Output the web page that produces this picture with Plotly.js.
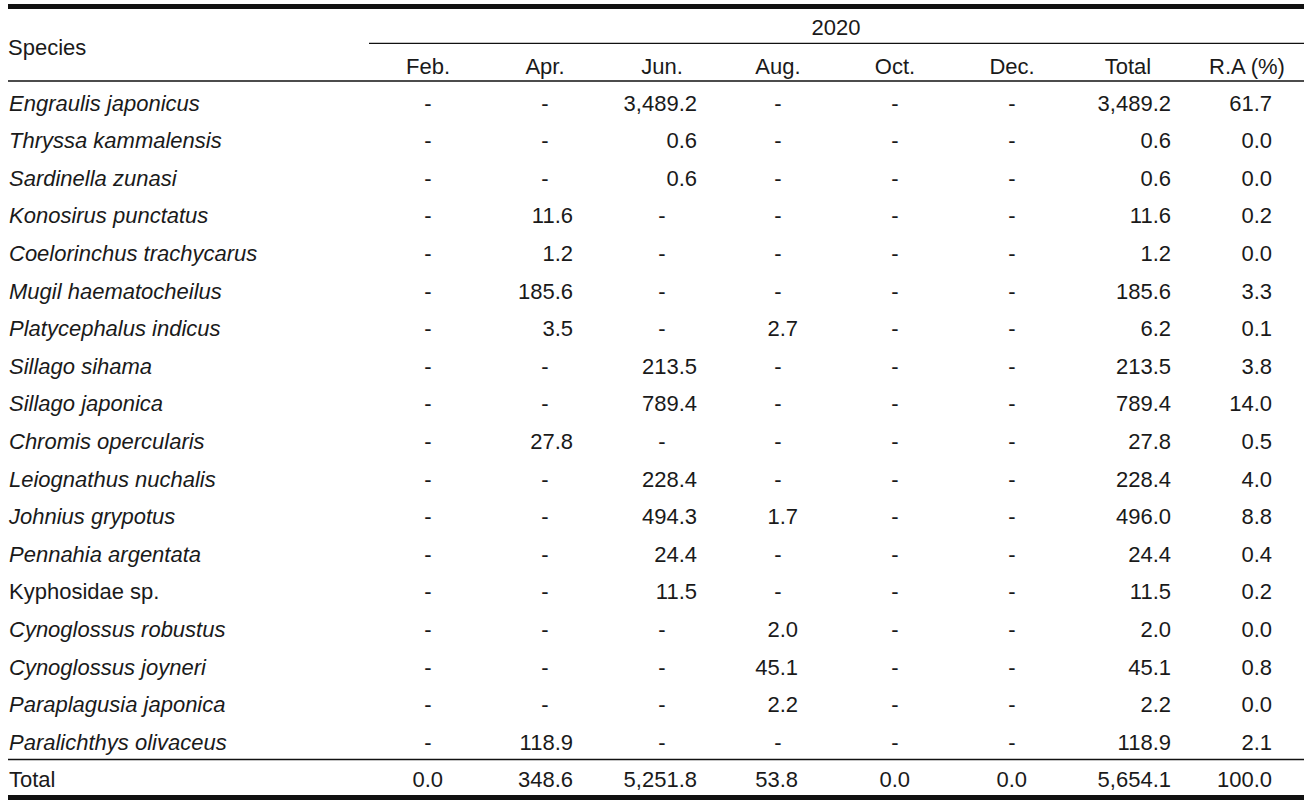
<!DOCTYPE html>
<html>
<head>
<meta charset="utf-8">
<script src="https://cdn.plot.ly/plotly-3.0.1.min.js"></script>
<style>
html,body{margin:0;padding:0;background:#fff;}
#chart{width:1314px;height:805px;}
</style>
</head>
<body>
<div id="chart"></div>
<script>
// ---------- data ----------
const species = [
  "Engraulis japonicus","Thryssa kammalensis","Sardinella zunasi","Konosirus punctatus",
  "Coelorinchus trachycarus","Mugil haematocheilus","Platycephalus indicus","Sillago sihama",
  "Sillago japonica","Chromis opercularis","Leiognathus nuchalis","Johnius grypotus",
  "Pennahia argentata","Kyphosidae sp.","Cynoglossus robustus","Cynoglossus joyneri",
  "Paraplagusia japonica","Paralichthys olivaceus"
];
const italicName = [true,true,true,true,true,true,true,true,true,true,true,true,true,false,true,true,true,true];
const yearLabel = "2020";
const speciesHeader = "Species";
const totalLabel = "Total";
const columnHeaders = ["Feb.","Apr.","Jun.","Aug.","Oct.","Dec.","Total","R.A (%)"];

const feb = [null,null,null,null,null,null,null,null,null,null,null,null,null,null,null,null,null,null];
const apr = [null,null,null,11.6,1.2,185.6,3.5,null,null,27.8,null,null,null,null,null,null,null,118.9];
const jun = [3489.2,0.6,0.6,null,null,null,null,213.5,789.4,null,228.4,494.3,24.4,11.5,null,null,null,null];
const aug = [null,null,null,null,null,null,2.7,null,null,null,null,1.7,null,null,2.0,45.1,2.2,null];
const oct = [null,null,null,null,null,null,null,null,null,null,null,null,null,null,null,null,null,null];
const dec = [null,null,null,null,null,null,null,null,null,null,null,null,null,null,null,null,null,null];
const total = [3489.2,0.6,0.6,11.6,1.2,185.6,6.2,213.5,789.4,27.8,228.4,496.0,24.4,11.5,2.0,45.1,2.2,118.9];
const relAbund = [61.7,0.0,0.0,0.2,0.0,3.3,0.1,3.8,14.0,0.5,4.0,8.8,0.4,0.2,0.0,0.8,0.0,2.1];
const columnTotals = [0.0,348.6,5251.8,53.8,0.0,0.0,5654.1,100.0];

// ---------- layout geometry ----------
const W = 1314, H = 805;
const ROW0 = 105, ROWH = 37.6;
const rowOf = px => (px - ROW0) / ROWH;
const colCenter = [428,545,662,778,895,1012,1128,1247];
const colRight  = [443,573,697,798,910,1027,1171,1272];
const FONT = {family:"Liberation Sans, Arial, sans-serif", size:22, color:"#1a1a1a"};

const columns = [feb,apr,jun,aug,oct,dec,total,relAbund];
const fmt = v => v.toLocaleString("en-US",{minimumFractionDigits:1,maximumFractionDigits:1});

const traces = [];

// species names + Total row label
const nRows = species.length;
traces.push({
  type:"scatter", mode:"text",
  x: species.map(()=>9).concat([9]),
  y: species.map((_,i)=>i).concat([nRows]),
  text: species.map((s,i)=> italicName[i] ? "<i>"+s+"</i>" : s).concat([totalLabel]),
  textposition:"middle right",
  textfont: FONT, hoverinfo:"skip", cliponaxis:false, showlegend:false
});

// data columns
columns.forEach((col,c)=>{
  const vals = col.concat([columnTotals[c]]);
  traces.push({
    type:"scatter", mode:"text",
    x: vals.map(v => v===null ? colCenter[c] : colRight[c]),
    y: vals.map((_,i)=>i),
    text: vals.map(v => v===null ? "-" : fmt(v)),
    textposition: vals.map(v => v===null ? "middle center" : "middle left"),
    textfont: FONT, hoverinfo:"skip", cliponaxis:false, showlegend:false
  });
});

// headers
traces.push({
  type:"scatter", mode:"text",
  x: colCenter,
  y: colCenter.map(()=>rowOf(68)),
  text: columnHeaders,
  textposition:"middle center",
  textfont: FONT, hoverinfo:"skip", cliponaxis:false, showlegend:false
});
traces.push({
  type:"scatter", mode:"text",
  x:[836, 8], y:[rowOf(29), rowOf(49)],
  text:[yearLabel, speciesHeader],
  textposition:["middle center","middle right"],
  textfont: FONT, hoverinfo:"skip", cliponaxis:false, showlegend:false
});

const hline = (x0,x1,py,w) => ({type:"line", xref:"x", yref:"y", x0:x0, x1:x1, y0:rowOf(py), y1:rowOf(py), line:{color:"#111", width:w}});

const layout = {
  width:W, height:H,
  margin:{l:0,r:0,t:0,b:0},
  paper_bgcolor:"#fff", plot_bgcolor:"#fff",
  xaxis:{range:[0,W], visible:false, fixedrange:true},
  yaxis:{range:[rowOf(H), rowOf(0)], visible:false, fixedrange:true},
  shapes:[
    hline(8,1304,6.5,5),
    hline(369,1304,43.3,1.3),
    hline(8,1304,81,1.3),
    hline(8,1304,759.5,1.3),
    hline(8,1304,797.5,5)
  ],
  hovermode:false,
  showlegend:false
};

Plotly.newPlot("chart", traces, layout, {displayModeBar:false, staticPlot:true});
</script>
</body>
</html>
